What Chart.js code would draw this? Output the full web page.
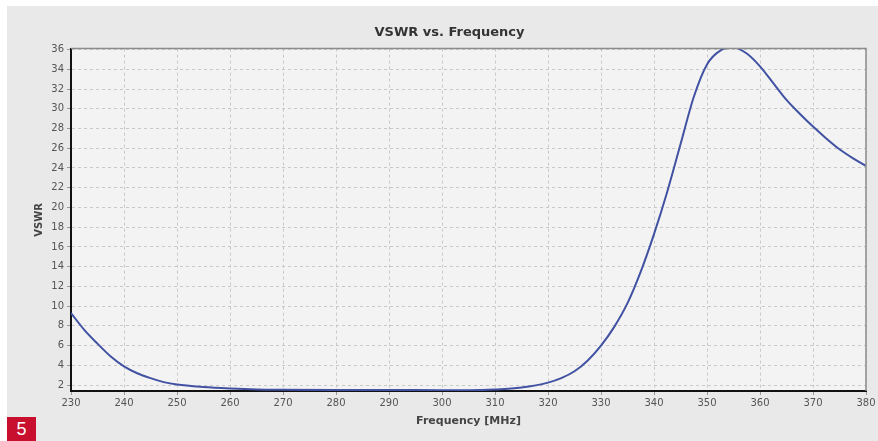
<!DOCTYPE html>
<html>
<head>
<meta charset="utf-8">
<script src="https://cdn.jsdelivr.net/npm/chart.js@4"></script>
<style>
  body { margin: 0; background: #fff; width: 878px; height: 441px; overflow: hidden; }
  #panel { position: absolute; left: 7px; top: 6px; width: 871px; height: 435px; background: #e9e9e9; }
  #badge { position: absolute; left: 7px; top: 417px; width: 29px; height: 24px; background: #c8102e;
           color: #fff; font: 18px "Liberation Sans", Arial, sans-serif; text-align: center; line-height: 25px; }
</style>
</head>
<body>
<div id="panel"><canvas id="vswrChart" width="871" height="435"></canvas></div>
<div id="badge">5</div>
<script>
// Frequency points (MHz) and VSWR
const freqs = [230, 232.5, 235, 237.5, 240, 242.5, 245, 247.5, 250, 255, 260, 265, 270, 280, 290, 300, 305,
               310, 315, 320, 322.5, 325, 327.5, 330, 332.5, 335, 337.5, 340, 342.5, 345, 347.5, 350, 352.5,
               355, 357.5, 360, 362.5, 365, 367.5, 370, 372.5, 375, 377.5, 380];
const vswr = [9.3, 7.6, 6.2, 4.9, 3.9, 3.2, 2.7, 2.3, 2.05, 1.8, 1.65, 1.55, 1.52, 1.5, 1.5, 1.48, 1.48,
              1.55, 1.75, 2.25, 2.7, 3.4, 4.5, 6.0, 7.9, 10.3, 13.5, 17.3, 21.6, 26.4, 31.2, 34.5, 35.9,
              36.2, 35.6, 34.3, 32.6, 30.9, 29.5, 28.2, 27.0, 25.9, 25.0, 24.2];
const yTicks = [2, 4, 6, 8, 10, 12, 14, 16, 18, 20, 22, 24, 26, 28, 30, 32, 34, 36];

const points = freqs.map((f, i) => ({ x: f, y: vswr[i] }));

// plot background and grey frame on top/right
const plotFrame = {
    id: 'plotFrame',
    beforeDraw(chart) {
        const a = chart.chartArea, c = chart.ctx;
        c.save();
        c.fillStyle = '#f3f3f3';
        c.fillRect(a.left, a.top, a.right - a.left, a.bottom - a.top);
        c.restore();
    },
    afterDraw(chart) {
        const a = chart.chartArea, c = chart.ctx;
        c.save();
        c.strokeStyle = '#8c8c8c';
        c.lineWidth = 1.5;
        c.beginPath();
        c.moveTo(a.left, a.top);
        c.lineTo(a.right, a.top);
        c.lineTo(a.right, a.bottom);
        c.stroke();
        c.restore();
    }
};

const tickFont = { family: 'Tahoma, "DejaVu Sans", sans-serif', size: 10 };

new Chart(document.getElementById('vswrChart'), {
    type: 'line',
    data: {
        datasets: [{
            data: points,
            borderColor: '#4152a3',
            borderWidth: 2,
            pointRadius: 0,
            cubicInterpolationMode: 'monotone',
            fill: false
        }]
    },
    options: {
        responsive: false,
        animation: false,
        layout: { padding: { left: 26, right: 12, top: 0, bottom: 13 } },
        plugins: {
            legend: { display: false },
            tooltip: { enabled: false },
            title: {
                display: true,
                text: 'VSWR vs. Frequency',
                color: '#333',
                font: { family: 'Tahoma, "DejaVu Sans", sans-serif', size: 13, weight: 'bold' },
                padding: { top: 19, bottom: 8 }
            }
        },
        scales: {
            x: {
                type: 'linear',
                min: 230,
                max: 380,
                ticks: { stepSize: 10, color: '#555', font: tickFont, padding: 2 },
                grid: { color: '#c8c8c8', tickLength: 4, tickColor: '#999', lineWidth: 1 },
                border: { color: '#111', width: 2, dash: [3, 3] },
                title: {
                    display: true, text: 'Frequency [MHz]', color: '#444',
                    font: { family: 'Tahoma, "DejaVu Sans", sans-serif', size: 11, weight: 'bold' },
                    padding: { top: 0, bottom: 0 }
                },
                afterFit(s) { s.height = 37; }
            },
            y: {
                min: 1.4,
                max: 36.1,
                afterBuildTicks(s) { s.ticks = yTicks.map(v => ({ value: v })); },
                ticks: { color: '#555', font: tickFont, padding: 3 },
                grid: { color: '#c8c8c8', tickLength: 4, tickColor: '#999', lineWidth: 1 },
                border: { color: '#111', width: 2, dash: [3, 3] },
                title: {
                    display: true, text: 'VSWR', color: '#444',
                    font: { family: 'Tahoma, "DejaVu Sans", sans-serif', size: 10, weight: 'bold' },
                    padding: { top: 0, bottom: 4 }
                },
                afterFit(s) { s.width = 38; }
            }
        }
    },
    plugins: [plotFrame]
});
</script>
</body>
</html>
